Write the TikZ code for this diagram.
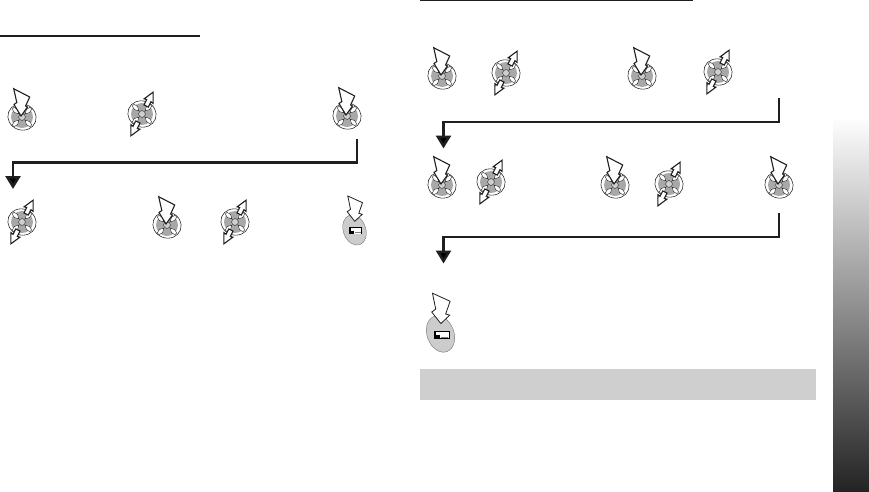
\documentclass[tikz,border=0pt]{standalone}
\usetikzlibrary{arrows.meta,shapes.geometric}
\definecolor{padgrey}{gray}{0.66}
\definecolor{entergrey}{gray}{0.80}
\definecolor{barA}{gray}{0.99}
\definecolor{barB}{gray}{0.14}
\definecolor{inkdark}{gray}{0.12}
\tikzset{
  iconline/.style={draw=inkdark,line width=1.1pt,line join=miter,miter limit=4},
  petal/.style={draw=inkdark,line width=0.4pt,fill=white},
  padcore/.pic={
    \fill[padgrey] (0,0) circle (11);
    \foreach \a in {45,135,225,315}{
      \filldraw[petal,rotate=\a] (4.5,0) -- (8.5,-2.2) -- (12.5,-1.3) -- (12.5,1.3) -- (8.5,2.2) -- cycle;
    }
    \filldraw[fill=padgrey!55,draw=inkdark,line width=0.4pt] (0,0) circle (3.4);
    \draw[draw=inkdark,line width=0.55pt,rotate=-20] (0,0) ellipse (14.3 and 13);
  },
  presspad/.pic={
    \pic{padcore};
    \filldraw[iconline,fill=white] (-8.3,-28.3) -- (7.7,-20) -- (3.6,-11) -- (5.5,-10) -- (-1,-1) -- (-8,-12.5) -- (-5.2,-14.5) -- cycle;
  },
  updownpad/.pic={
    \begin{scope}[scale=0.93]\pic{padcore};\end{scope}
    \begin{scope}[rotate=-27]
      \filldraw[iconline,fill=white] (0,-24.5) -- (5,-14.5) -- (2.4,-15) -- (2.4,-9) -- (-2.4,-9) -- (-2.4,-15) -- (-5,-14.5) -- cycle;
      \filldraw[iconline,fill=white] (0,24.5) -- (5,14.5) -- (2.4,15) -- (2.4,9) -- (-2.4,9) -- (-2.4,15) -- (-5,14.5) -- cycle;
    \end{scope}
  },
  enterpad/.pic={
    \filldraw[fill=entergrey,draw=black!55,line width=0.4pt,rotate=20] (0,0) ellipse (11.2 and 15.6);
    \fill[black] (-5.7,-2.7) rectangle (7.7,4.3);
    \fill[white] (-3.9,-1.8) rectangle (6.9,1.2);
    \fill[white] (-0.5,1.2) rectangle (6.9,3.5);
    \draw[gray,line width=0.4pt] (0.5,2.4) -- (6.3,2.4);
    \filldraw[draw=inkdark,line width=0.8pt,miter limit=4,fill=white] (-6.7,-34) -- (8,-27.3) -- (4.3,-16.7) -- (7.7,-15.7) -- (0.3,-8.7) -- (-7.3,-18.3) -- (-4,-20.7) -- cycle;
  },
  flowline/.style={line width=2.6pt,draw=inkdark,line join=miter,-{Triangle[length=13pt,width=15pt,fill=black]}},
  headrule/.style={line width=2pt,draw=inkdark}
}
\begin{document}
\begin{tikzpicture}[x=1pt,y=-1pt]
\useasboundingbox (0,0) rectangle (869,491);
% left column
\coordinate (lr0) at (0,36); \coordinate (lr1) at (200,36);
\draw[headrule] (lr0) -- (lr1);
\pic (l1) at (22,117) {presspad};
\pic (l2) at (142,114) {updownpad};
\pic (l3) at (347,116) {presspad};
\coordinate (la) at (357,139); \coordinate (lb) at (13,162.5); \coordinate (lc) at (13,189);
\draw[flowline] (la) |- (lb) -- (lc);
\pic (l4) at (22,222) {updownpad};
\pic (l5) at (167,225) {presspad};
\pic (l6) at (235,222) {updownpad};
\pic (l7) at (354.5,230) {enterpad};
% right column
\coordinate (rr0) at (420,0.4); \coordinate (rr1) at (693,0.4);
\draw[headrule] (rr0) -- (rr1);
\pic (r1) at (442,76) {presspad};
\pic (r2) at (506,73) {updownpad};
\pic (r3) at (642,76) {presspad};
\pic (r4) at (718,72) {updownpad};
\coordinate (ra) at (779,98); \coordinate (rb) at (443.5,122); \coordinate (rc) at (443.5,148.5);
\draw[flowline] (ra) |- (rb) -- (rc);
\pic (r5) at (442,185) {presspad};
\pic (r6) at (491,182) {updownpad};
\pic (r7) at (615,185) {presspad};
\pic (r8) at (669,184) {updownpad};
\pic (r9) at (779,185) {presspad};
\coordinate (rd) at (779,213); \coordinate (re) at (443.5,237); \coordinate (rf) at (443.5,263.5);
\draw[flowline] (rd) |- (re) -- (rf);
\pic[scale=1.2] (r10) at (440.5,334) {enterpad};
\fill[gray!38] (420,369) rectangle (816,400);
% edge gradient
\shade[top color=barA,bottom color=barB,shading angle=0] (833,120) rectangle (869,491);
\end{tikzpicture}
\end{document}
